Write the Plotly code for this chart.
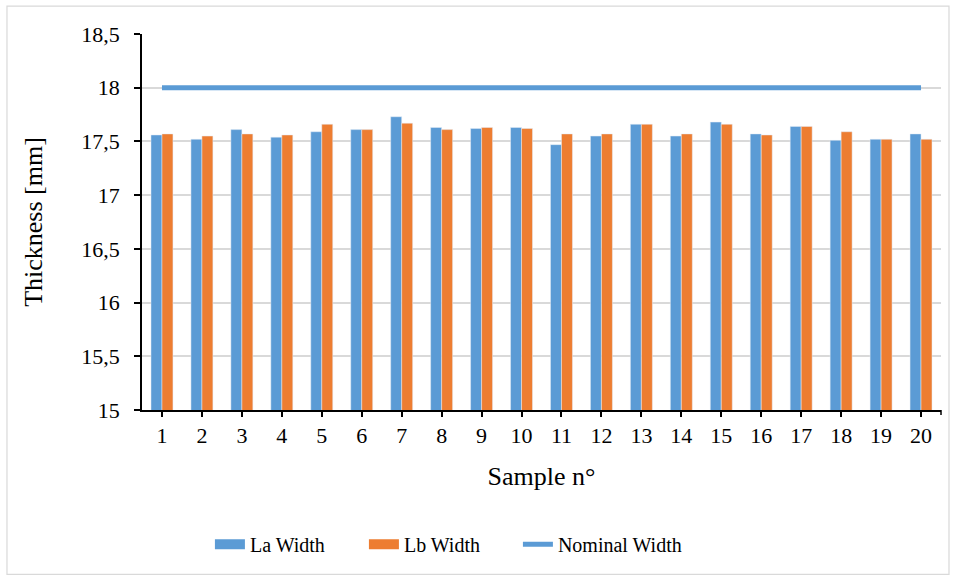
import plotly.graph_objects as go

samples = list(range(1, 21))
la_width = [17.56, 17.52, 17.61, 17.54, 17.59, 17.61, 17.73, 17.63, 17.62, 17.63,
            17.47, 17.55, 17.66, 17.55, 17.68, 17.57, 17.64, 17.51, 17.52, 17.57]
lb_width = [17.57, 17.55, 17.57, 17.56, 17.66, 17.61, 17.67, 17.61, 17.63, 17.62,
            17.57, 17.57, 17.66, 17.57, 17.66, 17.56, 17.64, 17.59, 17.52, 17.52]
nominal_width = [18] * 20
y_ticks = [15, 15.5, 16, 16.5, 17, 17.5, 18, 18.5]
y_tick_labels = ["15", "15,5", "16", "16,5", "17", "17,5", "18", "18,5"]

BLUE = "#5B9BD5"
ORANGE = "#ED7D31"
FONT = "Times New Roman, Liberation Serif, serif"

fig = go.Figure()
fig.add_trace(go.Bar(x=samples, y=la_width, name="La Width", marker_color=BLUE,
                     base=0, showlegend=False, legendgroup="la"))
fig.add_trace(go.Bar(x=samples, y=lb_width, name="Lb Width", marker_color=ORANGE,
                     base=0, showlegend=False, legendgroup="lb"))
# legend entries (wide rectangle swatches)
fig.add_trace(go.Scatter(x=[None], y=[None], mode="lines", name="La Width",
                         line=dict(color=BLUE, width=11), legendgroup="la"))
fig.add_trace(go.Scatter(x=[None], y=[None], mode="lines", name="Lb Width",
                         line=dict(color=ORANGE, width=11), legendgroup="lb"))
fig.add_trace(go.Scatter(x=samples, y=nominal_width, name="Nominal Width", mode="lines",
                         line=dict(color=BLUE, width=5)))
# invisible spacer entry so the last legend label is not clipped
fig.add_trace(go.Scatter(x=[None], y=[None], mode="lines", name=" ",
                         line=dict(color="rgba(0,0,0,0)", width=0), hoverinfo="skip"))

fig.update_layout(
    width=956, height=578,
    margin=dict(l=142, r=15, t=34, b=167.5),
    paper_bgcolor="white", plot_bgcolor="white",
    barmode="group", bargap=0.45, bargroupgap=0,
    font=dict(family=FONT, size=22, color="black"),
    showlegend=True,
    legend=dict(orientation="h", x=0.085, xanchor="left", y=-0.357, yanchor="middle",
                font=dict(family=FONT, size=20), traceorder="normal",
                entrywidth=109, entrywidthmode="pixels"),
    xaxis=dict(range=[0.5, 20.5], tickmode="array", tickvals=samples,
               ticktext=[str(s) for s in samples], showgrid=False, showline=True,
               linecolor="black", linewidth=1.5, ticks="outside", ticklen=5,
               tickcolor="black", tickwidth=1.5, zeroline=False,
               tickfont=dict(family=FONT, size=22),
               title=dict(text="Sample n°", font=dict(family=FONT, size=26), standoff=20)),
    yaxis=dict(range=[15, 18.5], tickmode="array", tickvals=y_ticks, ticktext=y_tick_labels,
               showgrid=True, gridcolor="#d9d9d9", gridwidth=1.5, showline=True,
               linecolor="black", linewidth=1.5, ticks="outside", ticklen=6,
               tickcolor="black", tickwidth=1.5, zeroline=False, ticklabelstandoff=10,
               tickfont=dict(family=FONT, size=22),
               title=dict(text="Thickness [mm]", font=dict(family=FONT, size=26), standoff=31)),
    shapes=[dict(type="rect", xref="paper", yref="paper", x0=-0.169, x1=1.010,
                 y0=-0.437, y1=1.0744, line=dict(color="#d9d9d9", width=1.2),
                 fillcolor="rgba(0,0,0,0)", layer="below"),
            dict(type="line", xref="paper", yref="paper", x0=1, x1=1, y0=0,
                 y1=-5 / 376.5, line=dict(color="black", width=1.5))],
)
fig.write_html("out.html", config={"displayModeBar": False},
               post_script="document.body.style.margin='0';")
